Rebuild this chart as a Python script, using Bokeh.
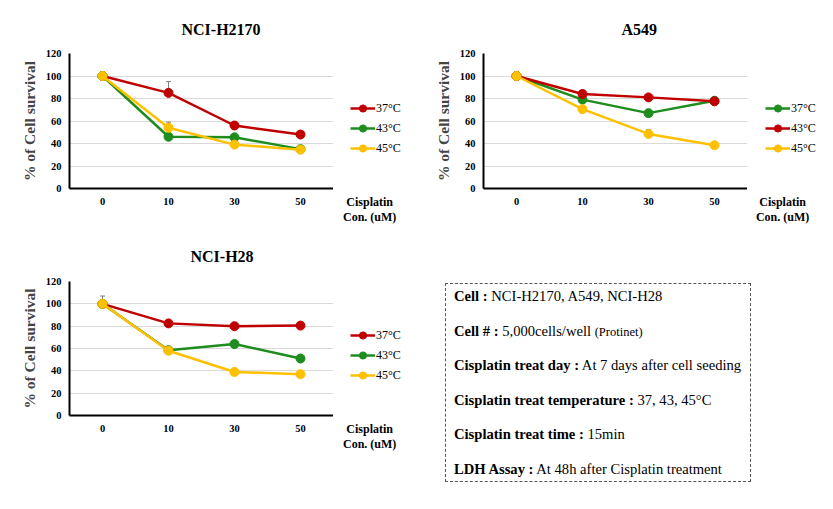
import numpy as np
from bokeh.plotting import figure
from bokeh.models import (ColumnDataSource, Legend, LegendItem, Whisker,
                          TeeHead, FixedTicker, Div, Range1d)
from bokeh.layouts import row, column
from bokeh.embed import file_html
from bokeh.resources import INLINE

# ---------------- data ----------------
doses = ["0", "10", "30", "50"]
y_ticks = [0, 20, 40, 60, 80, 100, 120]

h2170_37 = [100, 85, 56, 48]
h2170_43 = [100, 46, 45.5, 35]
h2170_45 = [100, 54, 39, 34.5]
h2170_err37 = [0, 10, 0, 0]
h2170_err45 = [0, 5, 0, 0]

a549_37 = [100, 79, 67, 78]
a549_43 = [100, 84, 81, 77.5]
a549_45 = [100, 70.5, 48.5, 38.5]
a549_err45 = [0, 0, 4, 0]

h28_37 = [100, 82.5, 80, 80.5]
h28_43 = [100, 58.5, 64, 51]
h28_45 = [100, 58, 39, 37]
h28_err37 = [7, 0, 0, 0]

labels = ["37°C", "43°C", "45°C"]
x_title = "Cisplatin\nCon. (uM)"

RED = "#C00000"
GREEN = "#1E8C1E"
YELLOW = "#FFC000"

SERIF = "Liberation Serif"


def panel(title, title_offset, title_standoff, series, colors, errs, width, height, mb):
    p = figure(x_range=doses, y_range=Range1d(0, 120), width=width, height=height,
               output_backend="svg", toolbar_location=None,
               min_border_left=mb[0], min_border_right=mb[1],
               min_border_top=mb[2], min_border_bottom=mb[3])
    p.title.text = title
    p.title.align = "left"
    p.title.offset = title_offset
    p.title.standoff = title_standoff
    p.title.text_font = SERIF
    p.title.text_font_size = "16px"
    p.title.text_font_style = "bold"
    p.title.text_color = "black"
    p.outline_line_color = None
    p.background_fill_color = "white"
    p.border_fill_color = "white"

    p.xgrid.grid_line_color = None
    p.ygrid.grid_line_color = "#D9D9D9"
    p.ygrid.grid_line_width = 1
    p.yaxis.ticker = FixedTicker(ticks=y_ticks)

    for ax in (p.xaxis[0], p.yaxis[0]):
        ax.axis_line_color = "black"
        ax.axis_line_width = 2
        ax.major_tick_line_color = None
        ax.minor_tick_line_color = None
        ax.major_tick_out = 0
        ax.major_tick_in = 0
        ax.minor_tick_out = 0
        ax.minor_tick_in = 0
        ax.major_label_text_font = SERIF
        ax.major_label_text_font_style = "bold"
        ax.major_label_text_font_size = "10.5px"
        ax.major_label_text_color = "black"
    p.xaxis.major_label_standoff = 9
    p.yaxis.major_label_standoff = 8
    p.yaxis.axis_label = "% of Cell survival"
    p.yaxis.axis_label_text_font = SERIF
    p.yaxis.axis_label_text_font_style = "bold"
    p.yaxis.axis_label_text_font_size = "15.5px"
    p.yaxis.axis_label_standoff = 5

    for vals, col in zip(series, colors):
        src = ColumnDataSource(dict(x=doses, y=vals))
        p.line("x", "y", source=src, line_color=col, line_width=2.5)
        p.scatter("x", "y", source=src, size=9, fill_color=col, line_color=col)

    for vals, err in errs:
        src = ColumnDataSource(dict(x=doses, lo=vals, hi=[v + e for v, e in zip(vals, err)]))
        w = Whisker(base="x", lower="lo", upper="hi", source=src,
                    line_color="#7F7F7F", line_width=1,
                    upper_head=TeeHead(size=5, line_color="#7F7F7F", line_width=1),
                    lower_head=None)
        p.add_layout(w)
    return p


def side(colors, width, height, leg_xy, cap_pos):
    """Legend + x-axis title panel standing right of a chart (frames align in the row)."""
    s = figure(width=width, height=height, x_range=Range1d(0, 1), y_range=Range1d(0, 1),
               output_backend="svg", toolbar_location=None, title=None, min_border=0)
    s.yaxis.visible = False
    s.grid.visible = False
    s.outline_line_color = None
    s.background_fill_color = "white"
    s.border_fill_color = "white"
    # x-axis title "Cisplatin / Con. (uM)" at the end of the x axis
    ax = s.xaxis[0]
    ax.ticker = FixedTicker(ticks=[cap_pos])
    ax.major_label_overrides = {cap_pos: x_title}
    ax.axis_line_color = None
    ax.major_tick_line_color = None
    ax.minor_tick_line_color = None
    ax.major_tick_out = 0
    ax.major_tick_in = 0
    ax.minor_tick_out = 0
    ax.minor_tick_in = 0
    ax.major_label_standoff = 6
    ax.major_label_text_font = SERIF
    ax.major_label_text_font_style = "bold"
    ax.major_label_text_font_size = "12px"
    ax.major_label_text_color = "black"
    ax.major_label_text_line_height = 1.08

    items = []
    nan = np.array([np.nan])
    for col, lab in zip(colors, labels):
        r1 = s.line(nan, nan, line_color=col, line_width=2.5)
        r2 = s.scatter(nan, nan, size=9, fill_color=col, line_color=col)
        items.append(LegendItem(label=lab, renderers=[r1, r2]))
    legend = Legend(items=items, location=leg_xy, orientation="vertical",
                    label_text_font=SERIF, label_text_font_size="12px",
                    label_text_color="black", background_fill_alpha=0,
                    border_line_color=None, spacing=2, padding=0, margin=0,
                    glyph_width=25, glyph_height=18, label_standoff=1,
                    label_height=18)
    s.add_layout(legend)
    return s


f1 = panel("NCI-H2170", 112, 32, [h2170_37, h2170_43, h2170_45], [RED, GREEN, YELLOW],
           [(h2170_37, h2170_err37), (h2170_45, h2170_err45)],
           333, 227, (69, 0, 53, 39))
s1 = side([RED, GREEN, YELLOW], 77, 227, (17, 31), 0.47)

f2 = panel("A549", 138, 32, [a549_37, a549_43, a549_45], [GREEN, RED, YELLOW],
           [(a549_45, a549_err45)],
           337, 227, (73, 0, 53, 39))
s2 = side([GREEN, RED, YELLOW], 78, 227, (18, 31), 0.45)

f3 = panel("NCI-H28", 121, 34, [h28_37, h28_43, h28_45], [RED, GREEN, YELLOW],
           [(h28_37, h28_err37)],
           333, 274, (69, 0, 54, 86))
s3 = side([RED, GREEN, YELLOW], 77, 274, (17, 31), 0.47)

info_lines = [
    ("Cell :", " NCI-H2170, A549, NCI-H28", ""),
    ("Cell # :", " 5,000cells/well ", "(Protinet)"),
    ("Cisplatin treat day :", " At 7 days after cell seeding", ""),
    ("Cisplatin treat temperature :", " 37, 43, 45°C", ""),
    ("Cisplatin treat time :", " 15min", ""),
    ("LDH Assay :", " At 48h after Cisplatin treatment", ""),
]
html = ""
for b, r, s in info_lines:
    small = f'<span style="font-size:12.5px">{s}</span>' if s else ""
    html += (f'<div style="height:34.6px;line-height:24px;white-space:nowrap">'
             f'<b>{b}</b>{r}{small}</div>')

info = Div(text=html, width=306, height=199, margin=(56, 0, 0, 35),
           styles={"border": "1px dashed #555555", "box-sizing": "border-box",
                   "padding": "0px 0px 0px 8px", "font-family": SERIF,
                   "font-size": "14.6px", "color": "black", "overflow": "hidden"})

layout = column(row(f1, s1, f2, s2), row(f3, s3, info))
open("out.html", "w").write(file_html(layout, INLINE))
